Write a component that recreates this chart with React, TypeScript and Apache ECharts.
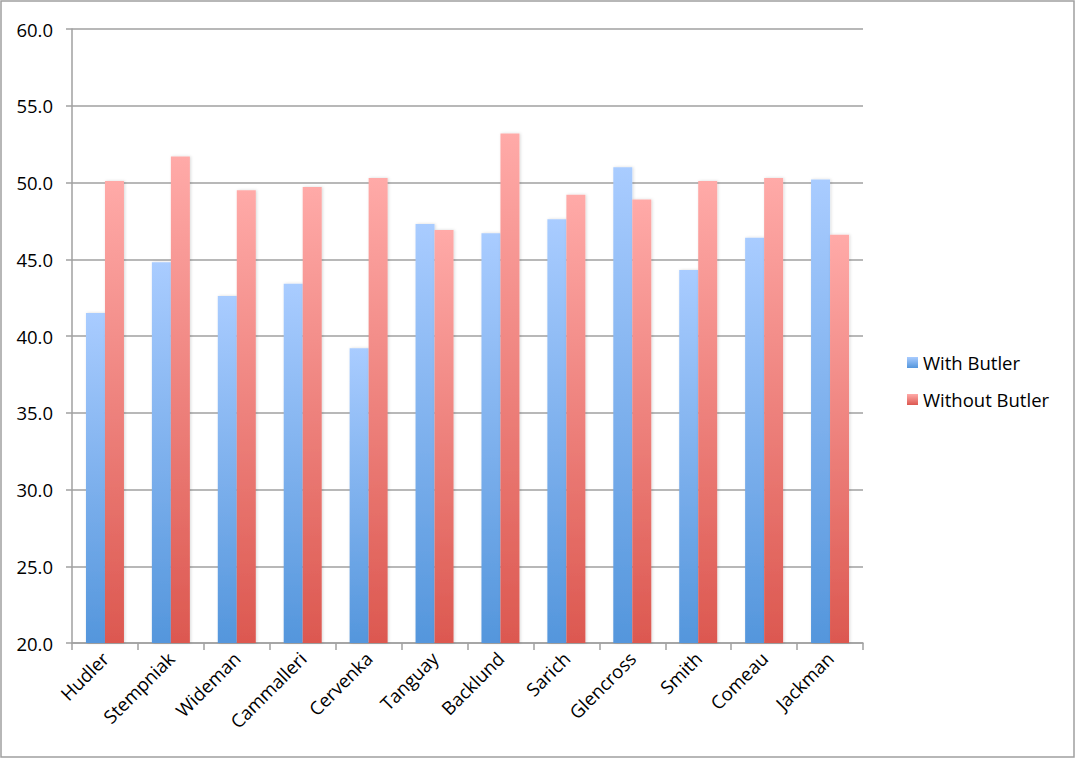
import React, { useEffect, useRef } from "react";
import * as echarts from "echarts";

const categories = ["Hudler", "Stempniak", "Wideman", "Cammalleri", "Cervenka", "Tanguay", "Backlund", "Sarich", "Glencross", "Smith", "Comeau", "Jackman"];
const withButler = [41.5, 44.8, 42.6, 43.4, 39.2, 47.3, 46.7, 47.6, 51.0, 44.3, 46.4, 50.2];
const withoutButler = [50.1, 51.7, 49.5, 49.7, 50.3, 46.9, 53.2, 49.2, 48.9, 50.1, 50.3, 46.6];
const seriesNames = ["With Butler", "Without Butler"];

const FONT = "'Open Sans', 'Noto Sans', sans-serif";

export default function App() {
  const ref = useRef<HTMLDivElement>(null);
  useEffect(() => {
    if (!ref.current) return;
    const chart = echarts.init(ref.current, null, { renderer: "svg" });
    const grad = (top: string, bottom: string) =>
      new echarts.graphic.LinearGradient(0, 0, 0, 1, [
        { offset: 0, color: top },
        { offset: 1, color: bottom },
      ]);
    chart.setOption({
      animation: false,
      backgroundColor: "#ffffff",
      graphic: [
        {
          type: "rect",
          shape: { x: 1, y: 1, width: 1073, height: 756 },
          style: { fill: "none", stroke: "#a0a0a0", lineWidth: 1.5 },
          silent: true,
        },
      ],
      grid: { left: 72, right: 213, top: 29, bottom: 116, containLabel: false },
      legend: {
        orient: "vertical",
        left: 902,
        top: 348,
        itemGap: 18,
        itemWidth: 11,
        itemHeight: 11,
        icon: "rect",
        textStyle: { fontFamily: FONT, fontSize: 18.5, color: "#000" },
        data: seriesNames,
      },
      xAxis: {
        type: "category",
        data: categories,
        axisLine: { lineStyle: { color: "#a0a0a0", width: 1.5 } },
        axisTick: { show: true, length: 7, alignWithLabel: false, lineStyle: { color: "#a0a0a0", width: 1.5 } },
        axisLabel: { rotate: 45, fontFamily: FONT, fontSize: 18.5, color: "#000", margin: 12 },
      },
      yAxis: {
        type: "value",
        min: 20,
        max: 60,
        interval: 5,
        axisLine: { show: true, lineStyle: { color: "#a0a0a0", width: 1.5 } },
        axisTick: { show: true, length: 6, lineStyle: { color: "#a0a0a0", width: 1.5 } },
        axisLabel: { fontFamily: FONT, fontSize: 18.5, color: "#000", margin: 19, formatter: (v: number) => v.toFixed(1) },
        splitLine: { lineStyle: { color: "#a0a0a0", width: 1.5 } },
      },
      series: [
        {
          name: seriesNames[0],
          type: "bar",
          data: withButler,
          barWidth: 19,
          barGap: "0%",
          itemStyle: {
            color: grad("#a9ccff", "#5496dc"),
            shadowColor: "rgba(0,0,0,0.15)",
            shadowBlur: 3,
            shadowOffsetX: 1,
          },
        },
        {
          name: seriesNames[1],
          type: "bar",
          data: withoutButler,
          barWidth: 19,
          barGap: "0%",
          itemStyle: {
            color: grad("#ffaaa8", "#dc5850"),
            shadowColor: "rgba(0,0,0,0.15)",
            shadowBlur: 3,
            shadowOffsetX: 1,
          },
        },
      ],
    });
    return () => chart.dispose();
  }, []);
  return <div ref={ref} style={{ position: "absolute", left: 0, top: 0, width: 1076, height: 759 }} />;
}
